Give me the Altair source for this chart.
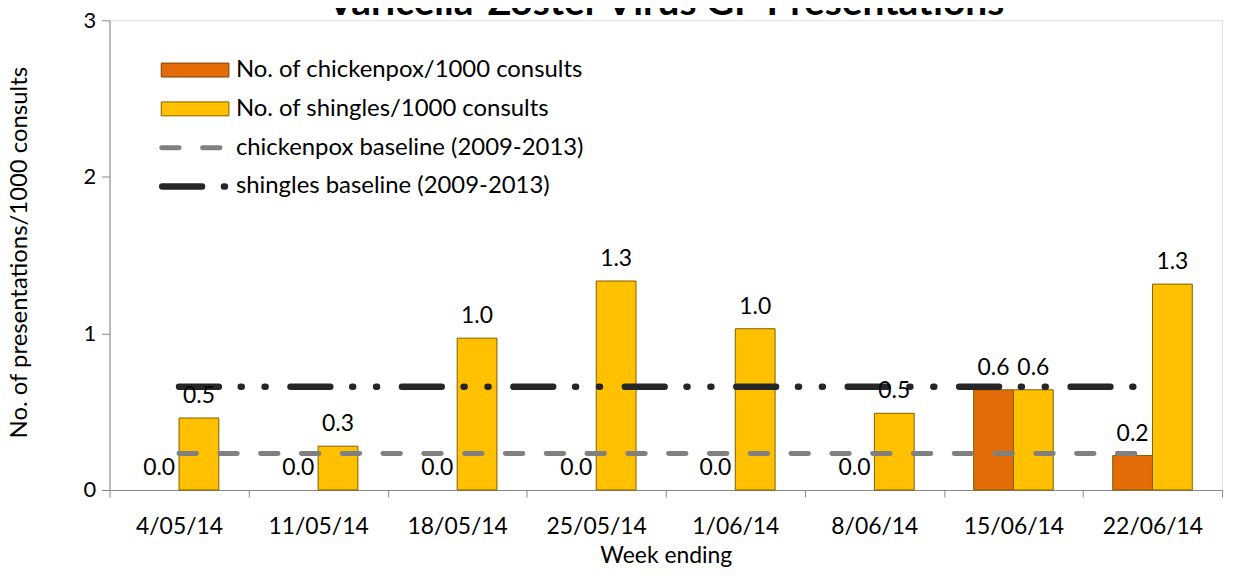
import altair as alt
import pandas as pd

weeks = ["4/05/14", "11/05/14", "18/05/14", "25/05/14", "1/06/14", "8/06/14", "15/06/14", "22/06/14"]
chickenpox = [0.0, 0.0, 0.0, 0.0, 0.0, 0.0, 0.64, 0.22]
shingles = [0.46, 0.28, 0.97, 1.335, 1.03, 0.49, 0.64, 1.315]
cp_baseline = [0.233] * 8
sh_baseline = [0.66] * 8

S_CP = "No. of chickenpox/1000 consults"
S_SH = "No. of shingles/1000 consults"
L_CP = "chickenpox baseline (2009-2013)"
L_SH = "shingles baseline (2009-2013)"
TITLE = "Varicella-Zoster Virus GP Presentations"

C_CP = "#E36C09"
C_SH = "#FFC000"
FONT = "Lato"

bars = pd.DataFrame(
    [{"week": w, "series": S_CP, "value": v} for w, v in zip(weeks, chickenpox)]
    + [{"week": w, "series": S_SH, "value": v} for w, v in zip(weeks, shingles)]
)
lines = pd.DataFrame({"week": weeks, "cp": cp_baseline, "sh": sh_baseline})

xenc = alt.X(
    "week:N", sort=weeks,
    scale=alt.Scale(domain=weeks, paddingInner=0, paddingOuter=0),
    axis=alt.Axis(
        title="Week ending", labelAngle=0, tickBand="extent", tickSize=7,
        domainColor="#868686", tickColor="#868686", labelPadding=30,
        labelBaseline="middle", labelFontSize=23, labelFont=FONT, labelColor="black",
        titleFont=FONT, titleFontSize=23, titleFontWeight="normal", titleColor="black",
        titleX=559, titleY=66, titleBaseline="middle", titleAlign="center",
    ),
)
yenc = alt.Y(
    "value:Q",
    scale=alt.Scale(domain=[0, 3], nice=False),
    axis=alt.Axis(
        title="No. of presentations/1000 consults", values=[0, 1, 2, 3], grid=False,
        tickSize=8, domainColor="#868686", tickColor="#868686", labelPadding=6,
        labelFontSize=22, labelFont=FONT, labelColor="black", format="d",
        titleFont=FONT, titleFontSize=24, titleFontWeight="normal", titleColor="black",
        titleX=-90, titleY=233, titleAngle=270, titleBaseline="middle", titleAlign="center",
    ),
)
xoff = alt.XOffset("series:N", sort=[S_CP, S_SH],
                   scale=alt.Scale(domain=[S_CP, S_SH], paddingInner=0, paddingOuter=0.747))
color = alt.Color("series:N", scale=alt.Scale(domain=[S_CP, S_SH], range=[C_CP, C_SH]), legend=None)

base = alt.Chart(bars)
bar_layer = base.mark_bar(stroke="#7F5F00", strokeWidth=1).encode(
    x=xenc, xOffset=xoff, y=yenc, color=color
).transform_filter("datum.value > 0")
text_layer = base.mark_text(font=FONT, fontSize=23, baseline="middle", dy=-22, color="black").encode(
    x=alt.X("week:N", sort=weeks), xOffset=xoff, y="value:Q",
    text=alt.Text("value:Q", format=".1f"),
)

cp_line = alt.Chart(lines).mark_line(
    color="#808080", strokeWidth=5, strokeDash=[17.5, 23.5], strokeCap="round"
).encode(x=alt.X("week:N", sort=weeks), y="cp:Q")
sh_line = alt.Chart(lines).mark_line(
    color="#262626", strokeWidth=6.5, strokeDash=[40, 22, 1, 23, 1, 25], strokeCap="round"
).encode(x=alt.X("week:N", sort=weeks), y="sh:Q")

# title (top mostly cut off, as in the reference)
title_layer = alt.Chart(pd.DataFrame({"t": [TITLE]})).mark_text(
    font=FONT, fontSize=39, fontWeight="bold", align="center", baseline="alphabetic", color="black"
).encode(x=alt.value(559), y=alt.value(-5), text="t:N")

# legend
leg_rows = pd.DataFrame({"label": [S_CP, S_SH, L_CP, L_SH], "ypos": [50, 89, 128, 167]})
leg_text = alt.Chart(leg_rows).mark_text(
    font=FONT, fontSize=24, align="left", baseline="middle", color="black"
).encode(x=alt.value(127), y=alt.Y("ypos:Q", scale=None), text="label:N")

leg_cp_box = alt.Chart(pd.DataFrame({"s": [S_CP]})).mark_rect(
    color=C_CP, stroke="#7F3F00", strokeWidth=1
).encode(x=alt.value(52), x2=alt.value(120), y=alt.value(43), y2=alt.value(57))
leg_sh_box = alt.Chart(pd.DataFrame({"s": [S_SH]})).mark_rect(
    color=C_SH, stroke="#7F5F00", strokeWidth=1
).encode(x=alt.value(52), x2=alt.value(120), y=alt.value(82), y2=alt.value(96))
leg_cp_line = alt.Chart(pd.DataFrame({"s": [L_CP]})).mark_rule(
    color="#808080", strokeWidth=5, strokeDash=[17.5, 23.5], strokeCap="round"
).encode(x=alt.value(52.5), x2=alt.value(113), y=alt.value(128))
leg_sh_line = alt.Chart(pd.DataFrame({"s": [L_SH]})).mark_rule(
    color="#262626", strokeWidth=6.5, strokeDash=[40, 22, 1, 100], strokeCap="round"
).encode(x=alt.value(53), x2=alt.value(117), y=alt.value(167))

chart = alt.layer(
    bar_layer, cp_line, sh_line, text_layer, title_layer,
    leg_cp_box, leg_sh_box, leg_cp_line, leg_sh_line, leg_text,
).properties(
    width=1118, height=472,
    autosize=alt.AutoSizeParams(type="none"),
    padding={"left": 102, "top": 11, "right": 5, "bottom": 76},
).configure_view(stroke=None).configure(background="white")

chart.save("out.html", embed_options={"renderer": "svg", "actions": False})
